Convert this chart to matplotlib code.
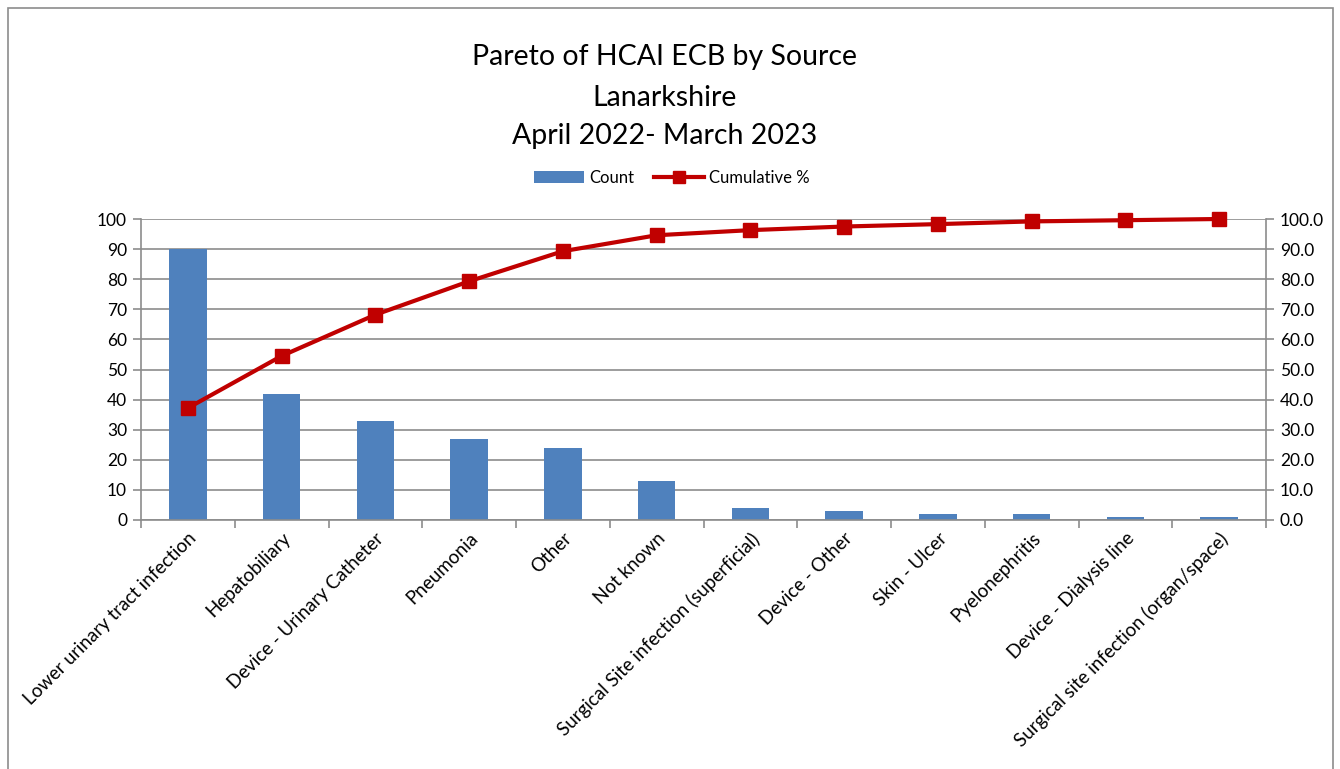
import matplotlib
matplotlib.use("Agg")
import matplotlib.pyplot as plt
from matplotlib.lines import Line2D
from matplotlib.patches import Patch, Rectangle
import numpy as np

categories = ["Lower urinary tract infection", "Hepatobiliary", "Device - Urinary Catheter",
              "Pneumonia", "Other", "Not known", "Surgical Site infection (superficial)",
              "Device - Other", "Skin - Ulcer", "Pyelonephritis", "Device - Dialysis line",
              "Surgical site infection (organ/space)"]
counts = [90, 42, 33, 27, 24, 13, 4, 3, 2, 2, 1, 1]
cumulative_pct = [37.2, 54.5, 68.2, 79.3, 89.3, 94.6, 96.3, 97.5, 98.3, 99.2, 99.6, 100.0]
title_lines = ["Pareto of HCAI ECB by Source", "Lanarkshire", "April 2022- March 2023"]

plt.rcParams['font.family'] = ['Lato', 'DejaVu Sans']

W, H = 1340, 769
fig = plt.figure(figsize=(W/100, H/100), dpi=100)
fig.patch.set_facecolor('white')

def fx(x): return x / W
def fy(y): return 1 - y / H

ax = fig.add_axes([fx(141), fy(520), fx(1266) - fx(141), fy(219) - fy(520)])
x = np.arange(len(categories))
ax.bar(x, counts, width=0.4, color='#4F81BD', zorder=2)
ax.set_xlim(-0.5, len(categories) - 0.5)
ax.set_ylim(0, 100)
ax.set_yticks(np.arange(0, 101, 10))
ax.yaxis.grid(True, color='#8C8C8C', linewidth=1.2, zorder=0)
ax.set_axisbelow(True)
ax.set_xticks(np.arange(-0.5, len(categories) + 0.5, 1))
ax.set_xticklabels([])
ax.set_xticks(x, minor=True)
ax.set_xticklabels(categories, minor=True, rotation=45, ha='right', va='top',
                   rotation_mode='anchor', fontsize=13.5)
ax.tick_params(axis='x', which='minor', length=0, pad=7)
ax.tick_params(axis='x', which='major', length=6, color='#8C8C8C', width=1.2)
ax.tick_params(axis='y', length=6, color='#8C8C8C', width=1.2, labelsize=12.5, pad=4)
for s in ['top', 'right']:
    ax.spines[s].set_visible(False)
for s in ['left', 'bottom']:
    ax.spines[s].set_color('#8C8C8C')
    ax.spines[s].set_linewidth(1.2)

ax2 = ax.twinx()
ax2.plot(x, cumulative_pct, color='#C00000', linewidth=3, marker='s', markersize=10, zorder=3,
         clip_on=False)
ax2.set_ylim(0, 100)
ax2.set_yticks(np.arange(0, 101, 10))
ax2.set_yticklabels([f"{v:.1f}" for v in np.arange(0, 101, 10)])
ax2.tick_params(axis='y', length=6, color='#8C8C8C', width=1.2, labelsize=12.5, pad=4)
for s in ['top', 'left', 'bottom']:
    ax2.spines[s].set_visible(False)
ax2.spines['right'].set_color('#8C8C8C')
ax2.spines['right'].set_linewidth(1.2)

for i, (t, y) in enumerate(zip(title_lines, [57, 98, 136])):
    fig.text(fx(665), fy(y), t, ha='center', va='center', fontsize=20.5)

handles = [Patch(facecolor='#4F81BD', edgecolor='none'),
           Line2D([0], [0], color='#C00000', linewidth=3, marker='s', markersize=9)]
fig.legend(handles, ['Count', 'Cumulative %'], loc='center', bbox_to_anchor=(fx(672), fy(178)),
           ncol=2, frameon=False, fontsize=12, handlelength=3, columnspacing=1.2, handletextpad=0.3)

fig.add_artist(Rectangle((fx(8), -0.02), fx(1333) - fx(8), fy(8) + 0.02, transform=fig.transFigure,
                         fill=False, edgecolor='#8C8C8C', linewidth=1.2))

fig.savefig('out.png', dpi=100)
